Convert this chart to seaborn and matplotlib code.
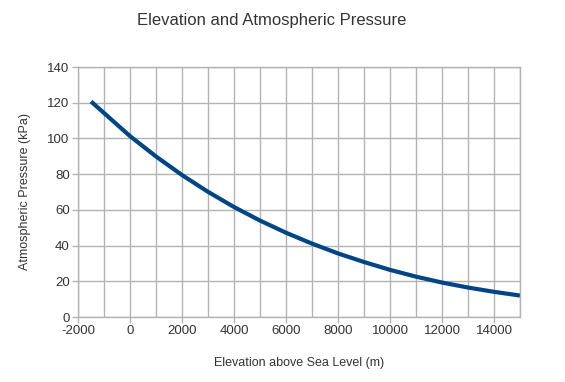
import matplotlib
matplotlib.use("Agg")
import matplotlib.pyplot as plt
import seaborn as sns
import pandas as pd
from matplotlib.ticker import MultipleLocator

elevation = [-1500, 0, 1000, 2000, 3000, 4000, 5000, 6000, 7000, 8000,
             9000, 10000, 11000, 12000, 13000, 14000, 15000]
pressure = [120.7, 101.3, 89.9, 79.5, 70.1, 61.6, 54.0, 47.2, 41.1, 35.6,
            30.8, 26.4, 22.6, 19.3, 16.5, 14.1, 12.0]

df = pd.DataFrame({"elev": elevation, "p": pressure})

sns.set_style("white")
plt.rcParams['font.family'] = ['Liberation Sans', 'DejaVu Sans']
plt.rcParams['axes.unicode_minus'] = False

fig = plt.figure(figsize=(5.65, 3.82), dpi=100)
ax = fig.add_axes([78/565, 1-317/382, (520-78)/565, (317-67)/382])

sns.lineplot(data=df, x="elev", y="p", ax=ax, color="#004586", linewidth=3.0,
             solid_capstyle="butt")

grid_c = "#b3b3b3"
ax.set_xlim(-2000, 15000)
ax.set_ylim(0, 140)
ax.xaxis.set_major_locator(MultipleLocator(2000))
ax.xaxis.set_minor_locator(MultipleLocator(1000))
ax.yaxis.set_major_locator(MultipleLocator(20))
ax.grid(True, which="both", axis="x", color=grid_c, linewidth=1)
ax.grid(True, which="major", axis="y", color=grid_c, linewidth=1)
ax.set_axisbelow(True)
for s in ax.spines.values():
    s.set_color(grid_c)
    s.set_linewidth(1)
ax.tick_params(axis="both", which="major", length=4, width=1, color=grid_c,
               labelsize=9.5, labelcolor="#333333", pad=2, direction="out")
ax.tick_params(axis="both", which="minor", length=0)
ax.tick_params(bottom=True, left=True)

ax.set_xlabel("Elevation above Sea Level (m)", fontsize=9, color="#333333", labelpad=14)
ax.set_ylabel("Atmospheric Pressure (kPa)", fontsize=9, color="#333333", labelpad=12)
fig.text(0.48, 1-20/382, "Elevation and Atmospheric Pressure", ha="center", va="center",
         fontsize=12, color="#333333")

fig.savefig("out.png", dpi=100)
